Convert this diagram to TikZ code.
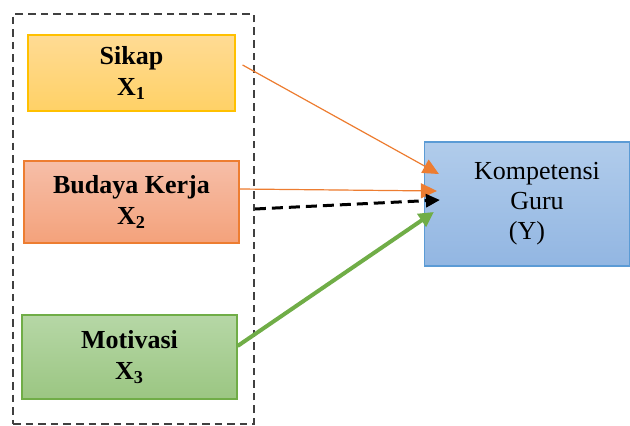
\documentclass[tikz,border=0pt]{standalone}
\usepackage{fontspec}
\setmainfont{Liberation Serif}
\usetikzlibrary{arrows.meta}

\definecolor{sikapTop}{HTML}{FFDB94}
\definecolor{sikapBot}{HTML}{FFD166}
\definecolor{sikapLine}{HTML}{FFC000}
\definecolor{budayaTop}{HTML}{F6BEA8}
\definecolor{budayaBot}{HTML}{F4A27B}
\definecolor{budayaLine}{HTML}{ED7D31}
\definecolor{motivTop}{HTML}{B6D7A6}
\definecolor{motivBot}{HTML}{9BC682}
\definecolor{motivLine}{HTML}{70AD47}
\definecolor{kompTop}{HTML}{B1CCEB}
\definecolor{kompBot}{HTML}{92B6E2}
\definecolor{kompLine}{HTML}{5B9BD5}

\begin{document}
\begin{tikzpicture}[x=0.5pt,y=-0.5pt,
    var/.style={rectangle,draw,line width=0.6pt,align=center,inner sep=0pt,
                font=\fontsize{13}{15.5}\selectfont\bfseries},
    dep/.style={rectangle,draw,line width=0.6pt,align=center,inner sep=0pt,
                font=\fontsize{13}{15}\selectfont},
    thin/.style={-{Triangle[length=8pt,width=7.5pt]},line width=0.6pt,
                 draw=budayaLine,fill=budayaLine},
    joint/.style={-{Triangle[length=7pt,width=6.5pt]},line width=1.5pt,
                  dash pattern=on 5.5pt off 3pt},
    strong/.style={-{Triangle[length=7.5pt,width=7.5pt]},line width=2pt,
                   draw=motivLine,fill=motivLine}]
  \useasboundingbox (0,0) rectangle (630,426);

  % dashed frame round the three X
  \node (frame) [draw=black!75,line width=0.9pt,dash pattern=on 3.8pt off 2.5pt,
                 minimum width=120.5pt,minimum height=205pt] at (133.5,219) {};

  \path (131.5,73)  node (sikap)    [var,draw=sikapLine,top color=sikapTop,bottom color=sikapBot,
                                     minimum width=103.5pt,minimum height=38pt]
                                    {Sikap\\X\textsubscript{1}}
        (131.5,202) node (budaya)   [var,draw=budayaLine,top color=budayaTop,bottom color=budayaBot,
                                     minimum width=107.5pt,minimum height=41pt]
                                    {Budaya Kerja\\X\textsubscript{2}}
        (129.5,357) node (motivasi) [var,draw=motivLine,top color=motivTop,bottom color=motivBot,
                                     minimum width=107.5pt,minimum height=42pt]
                                    {Motivasi\\X\textsubscript{3}}
        (527,204)   node (kompetensi) [dep,draw=kompLine,top color=kompTop,bottom color=kompBot,
                                     minimum width=102.5pt,minimum height=62pt]
                                    {\hspace*{10pt}Kompetensi\\\hspace*{10pt}Guru\\(Y)};

  % where the arrows leave and land
  \coordinate (out1) at ([shift={(7,-8)}]sikap.east);
  \coordinate (out2) at ([shift={(0,-13)}]budaya.east);
  \coordinate (out3) at ([shift={(0,-10)}]frame.east);
  \coordinate (out4) at ([shift={(0,-11)}]motivasi.east);
  \coordinate (in1)  at ([shift={(15,-30)}]kompetensi.west);
  \coordinate (in2)  at ([shift={(13,-13)}]kompetensi.west);
  \coordinate (in3)  at ([shift={(16,-4)}]kompetensi.west);
  \coordinate (in4)  at ([shift={(10,8)}]kompetensi.west);

  \draw [thin]   (out1) -- (in1);
  \draw [thin]   (out2) -- (in2);
  \draw [joint]  (out3) -- (in3);
  \draw [strong] (out4) -- (in4);
\end{tikzpicture}
\end{document}
